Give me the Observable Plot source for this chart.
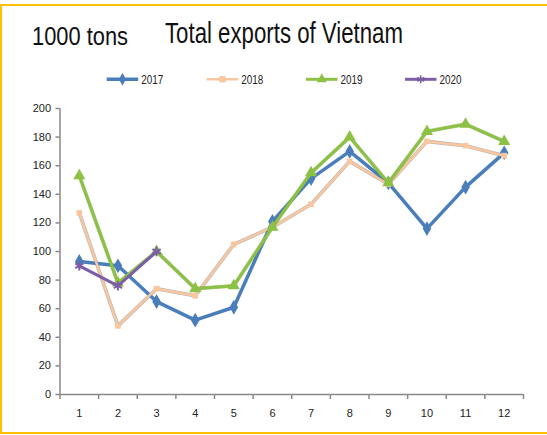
<!DOCTYPE html>
<html><head><meta charset="utf-8">
<script src="https://cdn.jsdelivr.net/npm/d3@7"></script>
<script src="https://cdn.jsdelivr.net/npm/@observablehq/plot@0.6"></script>
<style>
body{margin:0;background:#fff;}
#wrap{position:relative;width:547px;height:435px;overflow:hidden;}
#frame{position:absolute;left:0px;top:4px;width:570px;height:430px;border:2px solid #FFC000;box-sizing:border-box;}
.t{position:absolute;font-family:"Liberation Sans",Arial,sans-serif;color:#111;white-space:nowrap;transform-origin:0 0;}
.lg{position:absolute;font-family:"Liberation Sans",Arial,sans-serif;font-size:13.5px;line-height:14px;color:#222;white-space:nowrap;transform-origin:0 0;}
#plot{position:absolute;left:0;top:0;}
</style></head>
<body><div id="wrap"><div id="frame"></div>
<div id="plot"></div>
<div class="t" id="unit" style="left:31.5px;top:23.3px;font-size:26.5px;line-height:26.5px;">1000 tons</div>
<div class="t" id="title" style="left:165px;top:18.9px;font-size:28.8px;line-height:28.8px;">Total exports of Vietnam</div>
<svg id="legsvg" width="547" height="20" style="position:absolute;left:0;top:70px;"></svg>
</div>
<script>
const months = [1,2,3,4,5,6,7,8,9,10,11,12];
const years = ["2017","2018","2019","2020"];
const v2017 = [93,90,65,52,61,121,151,170,148,116,145,169];
const v2018 = [127,48,74,69,105,117,133,163,147,177,174,167];
const v2019 = [153,78,100,74,76,117,155,180,148,184,189,177];
const v2020 = [90,76,100];
const yTicks = [0,20,40,60,80,100,120,140,160,180,200];

const colors = {"2017":"#4A7EBB","2018":"#F9C79F","2019":"#8DC145","2020":"#7B5EA7"};
const symbols = {"2017":"diamond","2018":"square","2019":"triangle","2020":"asterisk"};
const widths = {"2017":3.5,"2018":2.5,"2019":3,"2020":3};
const series = {"2017":v2017,"2018":v2018,"2019":v2019,"2020":v2020};
const rows = years.flatMap(y => series[y].map((v,i)=>({year:y, month:months[i], value:v})));
const bounds = [0.5, ...months.map(m=>m+0.5)];

const marks = [
  Plot.ruleY([0], {stroke:"#888", strokeWidth:1.5}),
  Plot.ruleX([0.5], {stroke:"#888", strokeWidth:1.5}),
  Plot.axisY({ticks:yTicks, tickSize:4, stroke:"#888", strokeWidth:1.5, tickPadding:5, fontSize:11, fill:"#222", label:null}),
  Plot.axisX({ticks:bounds, tickSize:5, stroke:"#888", strokeWidth:1.5, tickFormat:()=>"", label:null}),
  Plot.axisX({ticks:months, tickSize:0, tickPadding:15, fontSize:11, fill:"#222", label:null}),
];
marks.push(Plot.line(rows.filter(d=>d.year==="2018"), {x:"month", y:"value", stroke:"#777", strokeWidth:3.6, strokeOpacity:0.55}));
for (const y of years) {
  const d = rows.filter(r=>r.year===y);
  if (y==="2019") marks.push(Plot.line(d, {x:"month", y:"value", stroke:"#6f9a37", strokeWidth:widths[y]+0.8, strokeOpacity:0.5}));
  marks.push(Plot.line(d, {x:"month", y:"value", stroke:colors[y], strokeWidth:widths[y]}));
  if (y==="2020") marks.push(Plot.dot(d, {x:"month", y:"value", symbol:"asterisk", stroke:colors[y], strokeWidth:2, r:4.5}));
  else marks.push(Plot.dot(d, {x:"month", y:"value", symbol:symbols[y], fill:colors[y], stroke:"none", r: y==="2018"?3.2:4.5}));
}

const chart = Plot.plot({
  width:547, height:435,
  marginLeft:59.5, marginRight:24, marginTop:108, marginBottom:41,
  style:{fontFamily:'"Liberation Sans",Arial,sans-serif', background:"transparent"},
  x:{type:"linear", domain:[0.5,12.5]},
  y:{domain:[0,200]},
  marks
});
document.getElementById("plot").appendChild(chart);

// squeeze the title texts to the narrow width of the reference font
function fit(el, w){ const r = el.getBoundingClientRect().width; el.style.transform = `scaleX(${w/r})`; }
fit(document.getElementById("unit"), 96);
fit(document.getElementById("title"), 238);

// legend
const leg = d3.select("#legsvg");
const legX = {"2017":106.7,"2018":206.7,"2019":306,"2020":405};
const symT = {"diamond":d3.symbolDiamond,"square":d3.symbolSquare,"triangle":d3.symbolTriangle,"asterisk":d3.symbolAsterisk};
for (const y of years) {
  const x0 = legX[y], cy = 9.3;
  leg.append("line").attr("x1",x0).attr("x2",x0+31.5).attr("y1",cy).attr("y2",cy)
    .attr("stroke",colors[y]).attr("stroke-width",widths[y]);
  const p = leg.append("path").attr("transform",`translate(${x0+15.75},${cy})`)
    .attr("d", d3.symbol().type(symT[symbols[y]]).size(y==="2018"?40:45)());
  if (y==="2020") p.attr("fill","none").attr("stroke",colors[y]).attr("stroke-width",1.5);
  else p.attr("fill",colors[y]);
  const t = leg.append("text").attr("x",0).attr("y",0)
    .attr("font-family",'"Liberation Sans",Arial,sans-serif').attr("font-size",13.5).attr("fill","#222")
    .text(y);
  const w = t.node().getComputedTextLength();
  t.attr("transform",`translate(${x0+34.5},${cy+4.9}) scale(${22/w},1)`);
}
</script></body></html>
